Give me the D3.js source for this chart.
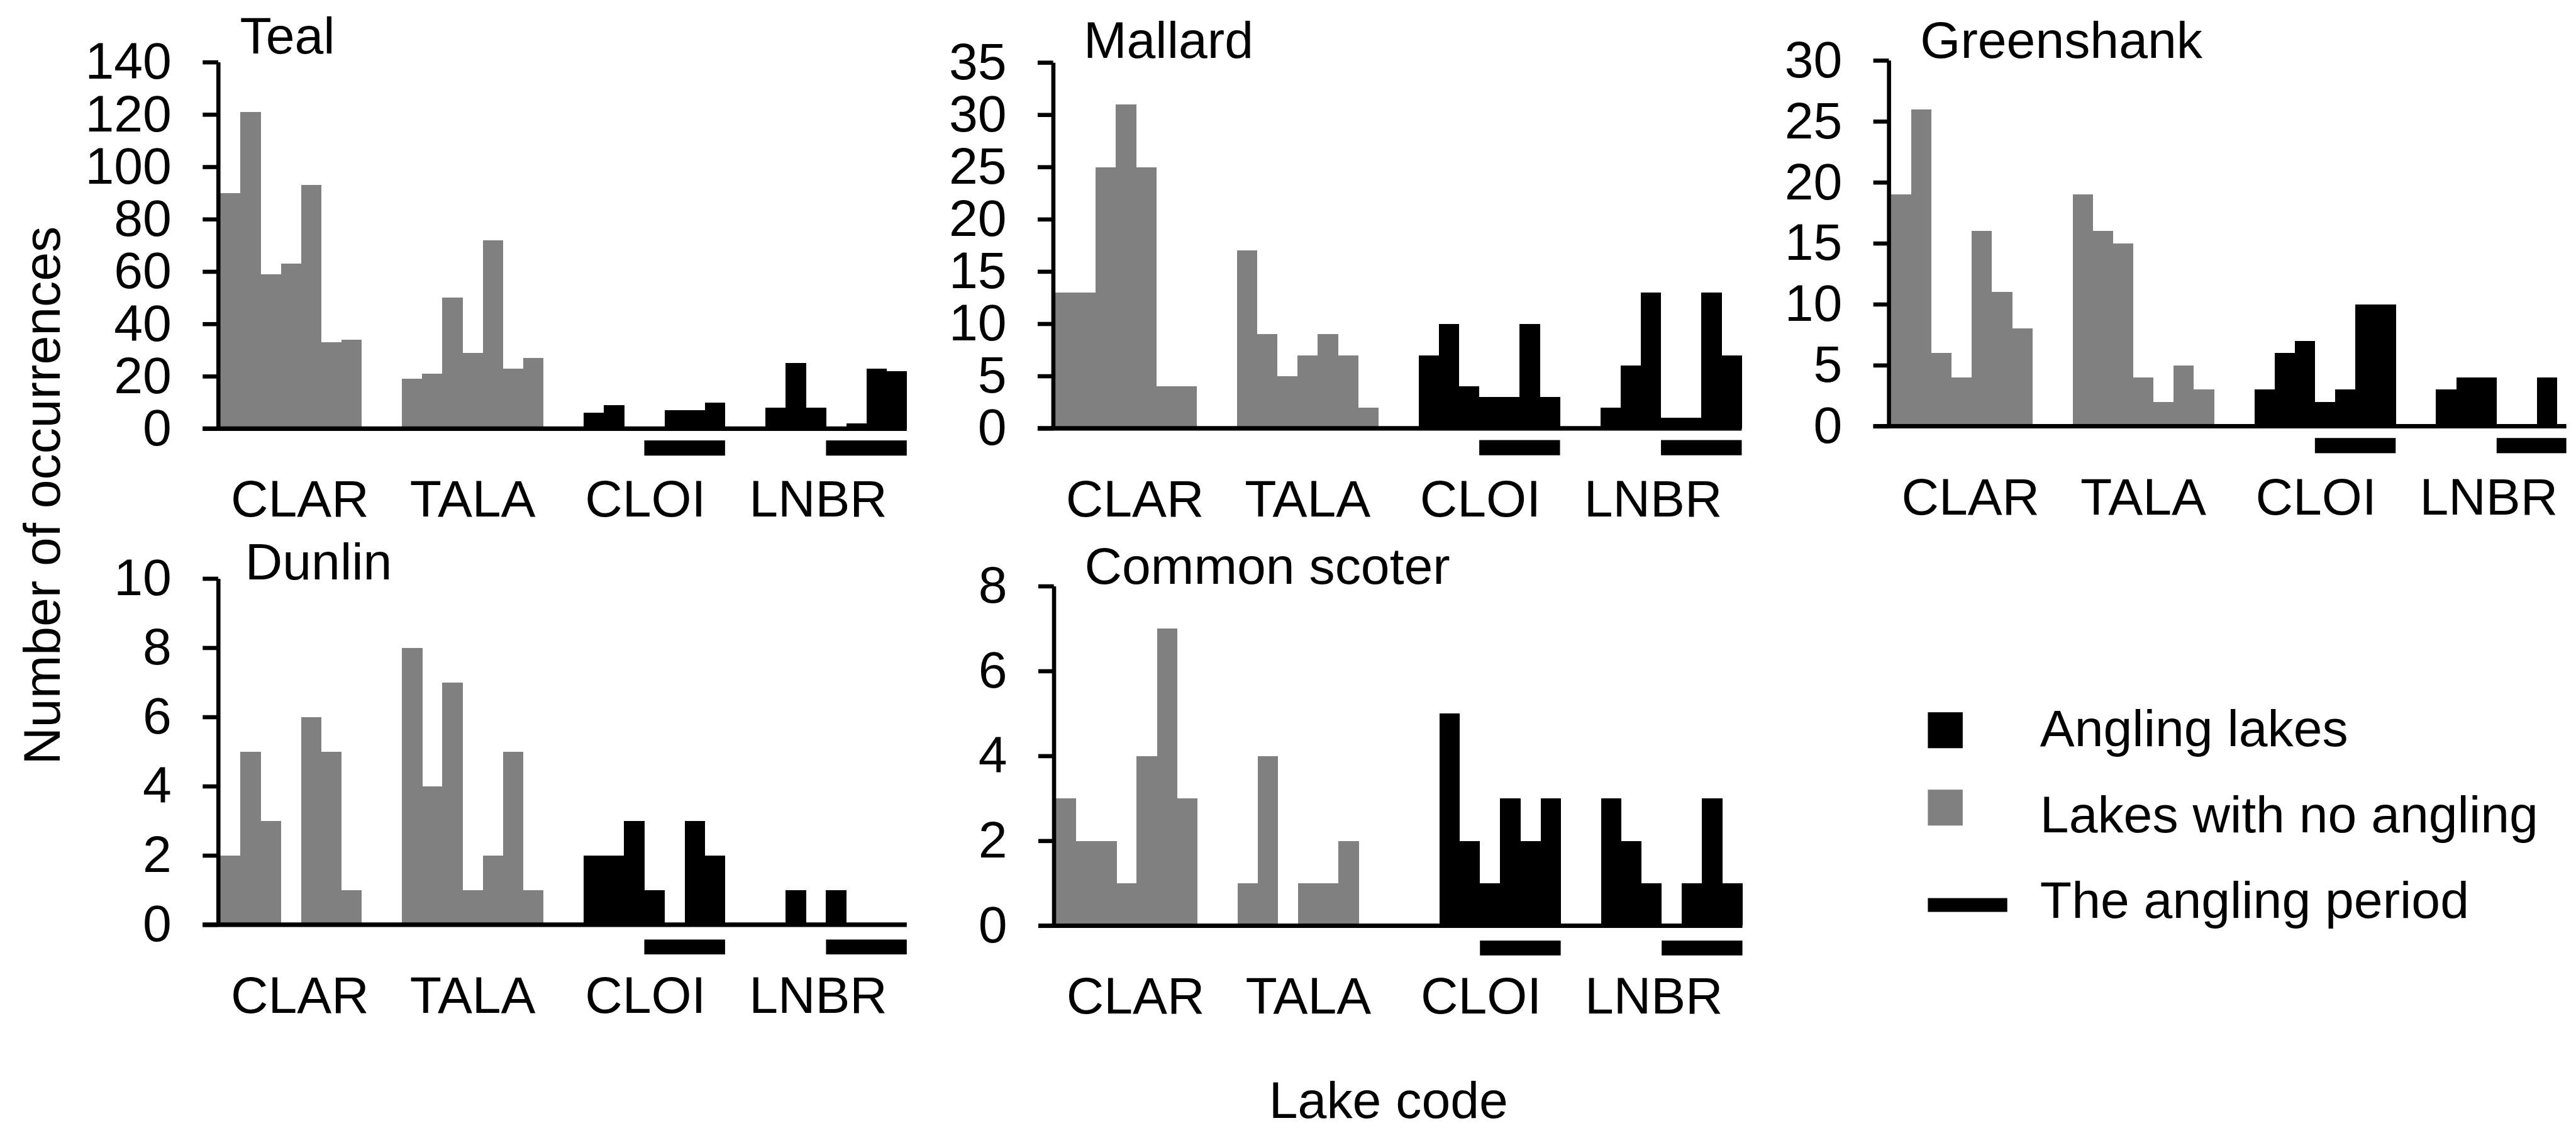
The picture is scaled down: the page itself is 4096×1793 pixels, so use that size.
<!DOCTYPE html>
<html>
<head>
<meta charset="utf-8">
<script src="https://cdn.jsdelivr.net/npm/d3@7"></script>
<style>
  html, body { margin: 0; padding: 0; background: #fff; }
  svg { display: block; }
  text { font-family: "Liberation Sans", Arial, sans-serif; fill: #000; }
</style>
</head>
<body>
<div id="chart"></div>
<script>
// lakes and sampling occasions
const lakes = ['CLAR', 'TALA', 'CLOI', 'LNBR'];
const anglingLakes = ['CLOI', 'LNBR'];
const occasions = [1, 2, 3, 4, 5, 6, 7];
const anglingOccasions = [4, 5, 6, 7];

// counts per lake, one value per occasion
const teal = {
  CLAR: [90, 121, 59, 63, 93, 33, 34],
  TALA: [19, 21, 50, 29, 72, 23, 27],
  CLOI: [6, 9, 0, 0, 7, 7, 10],
  LNBR: [8, 25, 8, 0, 2, 23, 22]
};
const mallard = {
  CLAR: [13, 13, 25, 31, 25, 4, 4],
  TALA: [17, 9, 5, 7, 9, 7, 2],
  CLOI: [7, 10, 4, 3, 3, 10, 3],
  LNBR: [2, 6, 13, 1, 1, 13, 7]
};
const greenshank = {
  CLAR: [19, 26, 6, 4, 16, 11, 8],
  TALA: [19, 16, 15, 4, 2, 5, 3],
  CLOI: [3, 6, 7, 2, 3, 10, 10],
  LNBR: [3, 4, 4, 0, 0, 4, 0]
};
const dunlin = {
  CLAR: [2, 5, 3, 0, 6, 5, 1],
  TALA: [8, 4, 7, 1, 2, 5, 1],
  CLOI: [2, 2, 3, 1, 0, 3, 2],
  LNBR: [0, 1, 0, 1, 0, 0, 0]
};
const commonScoter = {
  CLAR: [3, 2, 2, 1, 4, 7, 3],
  TALA: [1, 4, 0, 1, 1, 2, 0],
  CLOI: [0, 5, 2, 1, 3, 2, 3],
  LNBR: [3, 2, 1, 0, 1, 3, 1]
};

const speciesNames = ['Teal', 'Mallard', 'Greenshank', 'Dunlin', 'Common scoter'];
const speciesData = [teal, mallard, greenshank, dunlin, commonScoter];
const yMax = [140, 35, 30, 10, 8];
const yStep = [20, 5, 5, 2, 2];

const legendLabels = ['Angling lakes', 'Lakes with no angling', 'The angling period'];

// everything below is laid out in the reference's pixel space and scaled down
const width = 4096;
const height = 1793;
const k = width / 7460;

const GREY = '#808080';
const FS = 150;
const LW = 12;

// panel boxes: x0 = left edge of first bar, top = max tick, zero = baseline
const panels = [
  {x0: 638,  top: 180,  zero: 1241, titleDx: 57, titleY: 154},
  {x0: 3056, top: 181,  zero: 1240, titleDx: 82, titleY: 168},
  {x0: 5476, top: 175,  zero: 1234, titleDx: 85, titleY: 167, clip: 7432},
  {x0: 638,  top: 1675, zero: 2677, titleDx: 72, titleY: 1677},
  {x0: 3058, top: 1697, zero: 2680, titleDx: 83, titleY: 1690}
];
const panelW = 1988;

const svg = d3.select('#chart')
  .append('svg')
    .attr('width', width)
    .attr('height', height)
    .style('background', '#fff');

const root = svg.append('g').attr('transform', `scale(${k})`);

// band keys: 7 occasions per lake, 2 empty slots between lakes
const slots = lakes.flatMap((lake, i) => {
  const s = occasions.map(o => lake + o);
  return i < lakes.length - 1 ? s.concat([lake + 'g1', lake + 'g2']) : s;
});

svg.append('defs').append('clipPath')
  .attr('id', 'clipRight')
  .append('rect')
    .attr('x', 0).attr('y', 0)
    .attr('width', 7432).attr('height', 3265);

panels.forEach((p, idx) => {
  const data = speciesData[idx];
  const g = root.append('g');
  if (p.clip) g.attr('clip-path', 'url(#clipRight)');

  const x = d3.scaleBand()
    .domain(slots)
    .range([p.x0, p.x0 + panelW])
    .padding(0);

  const y = d3.scaleLinear()
    .domain([0, yMax[idx]])
    .range([p.zero, p.top]);

  const bars = lakes.flatMap(lake => occasions.map((o, j) => ({
    lake, key: lake + o, value: data[lake][j]
  })));

  g.append('g')
    .selectAll('rect')
    .data(bars)
    .join('rect')
      .attr('x', d => x(d.key))
      .attr('width', x.bandwidth() + 0.5)
      .attr('y', d => y(d.value))
      .attr('height', d => y(0) - y(d.value))
      .attr('fill', d => anglingLakes.includes(d.lake) ? '#000' : GREY)
      .attr('shape-rendering', 'crispEdges');

  // y axis
  const axisX = p.x0 - 6;
  const yAxis = g.append('g')
    .attr('transform', `translate(${axisX},0)`)
    .call(d3.axisLeft(y)
      .tickValues(d3.range(0, yMax[idx] + yStep[idx] / 2, yStep[idx]))
      .tickSize(45)
      .tickSizeOuter(0)
      .tickPadding(90));
  yAxis.select('.domain').attr('stroke', '#000').attr('stroke-width', LW);
  yAxis.selectAll('.tick line').attr('stroke', '#000').attr('stroke-width', LW);
  yAxis.selectAll('.tick text')
    .attr('font-size', FS)
    .attr('font-family', '"Liberation Sans", Arial, sans-serif')
    .attr('fill', '#000');

  // x axis baseline
  g.append('line')
    .attr('x1', axisX - 45)
    .attr('x2', p.x0 + panelW)
    .attr('y1', y(0))
    .attr('y2', y(0))
    .attr('stroke', '#000')
    .attr('stroke-width', 13);

  // angling period bars under angling lakes
  const offs = idx < 3 ? [34, 78] : [43, 86];
  g.append('g')
    .selectAll('rect')
    .data(anglingLakes)
    .join('rect')
      .attr('x', d => x(d + anglingOccasions[0]))
      .attr('width', d => x(d + anglingOccasions[anglingOccasions.length - 1]) + x.bandwidth() - x(d + anglingOccasions[0]))
      .attr('y', y(0) + offs[0])
      .attr('height', offs[1] - offs[0])
      .attr('fill', '#000');

  // lake labels
  const xLab = d3.scalePoint()
    .domain(lakes)
    .range([p.x0 + 0.116 * panelW, p.x0 + 0.871 * panelW]);

  g.append('g')
    .selectAll('text')
    .data(lakes)
    .join('text')
      .attr('x', d => xLab(d))
      .attr('y', y(0) + 255)
      .attr('text-anchor', 'middle')
      .attr('font-size', FS)
      .text(d => d);

  // species title
  g.append('text')
    .attr('x', p.x0 + p.titleDx)
    .attr('y', p.titleY)
    .attr('font-size', FS)
    .text(speciesNames[idx]);
});

// axis titles
root.append('text')
  .attr('transform', 'translate(173,2214) rotate(-90)')
  .attr('font-size', FS)
  .text('Number of occurrences');

root.append('text')
  .attr('x', 3675)
  .attr('y', 3237)
  .attr('font-size', FS)
  .text('Lake code');

// legend
const symY = [2062, 2286, 2600];
const symH = [104, 104, 40];
const symW = [101, 101, 230];
const symFill = ['#000', GREY, '#000'];
const legend = root.append('g');

legend.selectAll('rect')
  .data(legendLabels)
  .join('rect')
    .attr('x', 5583)
    .attr('y', (d, i) => symY[i])
    .attr('width', (d, i) => symW[i])
    .attr('height', (d, i) => symH[i])
    .attr('fill', (d, i) => symFill[i]);

legend.selectAll('text')
  .data(legendLabels)
  .join('text')
    .attr('x', 5908)
    .attr('y', (d, i) => 2160 + i * 249)
    .attr('font-size', FS)
    .text(d => d);
</script>
</body>
</html>
